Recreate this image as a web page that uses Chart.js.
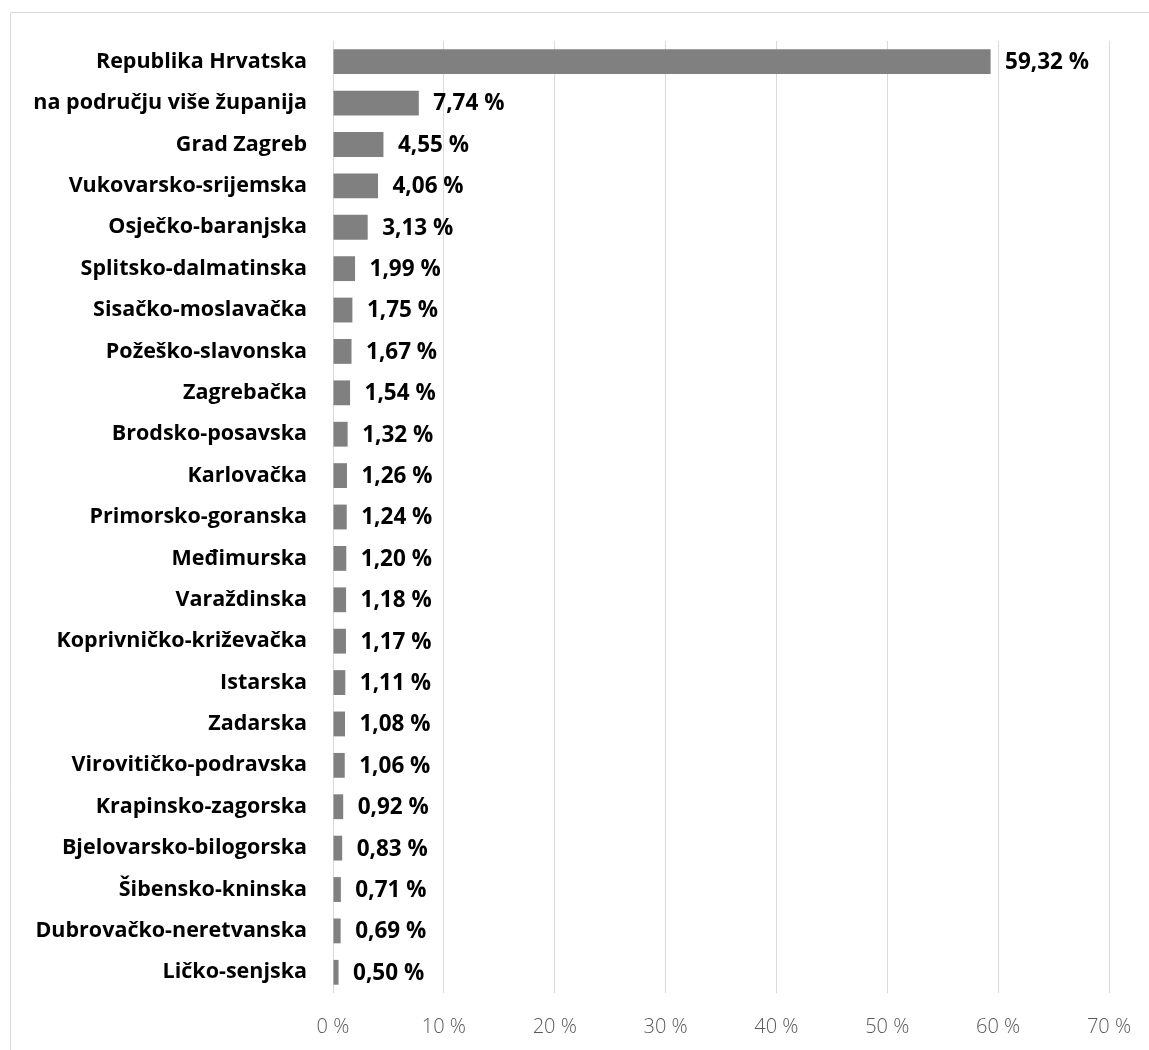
<!DOCTYPE html>
<html>
<head>
<meta charset="utf-8">
<script src="https://cdn.jsdelivr.net/npm/chart.js@4.4.1/dist/chart.umd.min.js"></script>
<style>
  html, body { margin: 0; padding: 0; background: #ffffff; }
  #wrap { position: relative; width: 1149px; height: 1050px; }
</style>
</head>
<body>
<div id="wrap"><canvas id="c" width="1149" height="1050"></canvas></div>
<script>
const categories = [
  "Republika Hrvatska",
  "na području više županija",
  "Grad Zagreb",
  "Vukovarsko-srijemska",
  "Osječko-baranjska",
  "Splitsko-dalmatinska",
  "Sisačko-moslavačka",
  "Požeško-slavonska",
  "Zagrebačka",
  "Brodsko-posavska",
  "Karlovačka",
  "Primorsko-goranska",
  "Međimurska",
  "Varaždinska",
  "Koprivničko-križevačka",
  "Istarska",
  "Zadarska",
  "Virovitičko-podravska",
  "Krapinsko-zagorska",
  "Bjelovarsko-bilogorska",
  "Šibensko-kninska",
  "Dubrovačko-neretvanska",
  "Ličko-senjska"
];
const shares = [59.32, 7.74, 4.55, 4.06, 3.13, 1.99, 1.75, 1.67, 1.54, 1.32, 1.26, 1.24, 1.20, 1.18, 1.17, 1.11, 1.08, 1.06, 0.92, 0.83, 0.71, 0.69, 0.50];
const xTicks = [0, 10, 20, 30, 40, 50, 60, 70];

const fmt = v => v.toFixed(2).replace('.', ',') + ' %';

const frame = {
  id: 'frame',
  beforeDraw(chart) {
    const ctx = chart.ctx;
    ctx.save();
    ctx.strokeStyle = '#d9d9d9';
    ctx.lineWidth = 1;
    ctx.beginPath();
    ctx.moveTo(10.5, 1050);
    ctx.lineTo(10.5, 12.5);
    ctx.lineTo(1149, 12.5);
    ctx.stroke();
    ctx.restore();
  }
};

// pin the plot area horizontally to the reference's axis positions
const pinArea = {
  id: 'pinArea',
  afterLayout(chart) {
    const x = chart.scales.x;
    const L = 333, R = 1109;
    x.left = L; x.right = R; x.width = R - L;
    x.configure();
    chart.chartArea.left = L;
    chart.chartArea.right = R;
    chart.chartArea.width = R - L;
  }
};

const valueLabels = {
  id: 'valueLabels',
  afterDatasetsDraw(chart) {
    const ctx = chart.ctx;
    const meta = chart.getDatasetMeta(0);
    ctx.save();
    ctx.font = 'bold 22.5px "Open Sans"';
    ctx.fillStyle = '#000000';
    ctx.textAlign = 'left';
    ctx.textBaseline = 'middle';
    meta.data.forEach((bar, i) => {
      ctx.fillText(fmt(shares[i]), bar.x + 14.5, bar.y + 1);
    });
    ctx.restore();
  }
};

new Chart(document.getElementById('c'), {
  type: 'bar',
  data: {
    labels: categories,
    datasets: [{
      data: shares,
      backgroundColor: '#808080',
      borderWidth: 0,
      categoryPercentage: 0.6,
      barPercentage: 1.0
    }]
  },
  options: {
    indexAxis: 'y',
    responsive: false,
    animation: false,
    layout: { padding: { top: 41, right: 40, bottom: 0, left: 0 } },
    plugins: { legend: { display: false }, tooltip: { enabled: false } },
    scales: {
      x: {
        min: 0, max: 70,
        afterBuildTicks(scale) { scale.ticks = xTicks.map(v => ({ value: v })); },
        afterFit(scale) { scale.height = 57; },
        grid: { color: '#d9d9d9', lineWidth: 1, drawTicks: false },
        border: { display: false },
        ticks: {
          padding: 22,
          color: '#595959',
          font: { family: 'Open Sans', size: 20, weight: '300' },
          callback: v => v + ' %'
        }
      },
      y: {
        afterFit(scale) { scale.width = 333; },
        grid: { display: false, drawTicks: false },
        border: { display: false },
        ticks: {
          padding: 26,
          color: '#000000',
          font: { family: 'Open Sans', size: 21.5, weight: 'bold' }
        }
      }
    }
  },
  plugins: [frame, pinArea, valueLabels]
});
</script>
</body>
</html>
